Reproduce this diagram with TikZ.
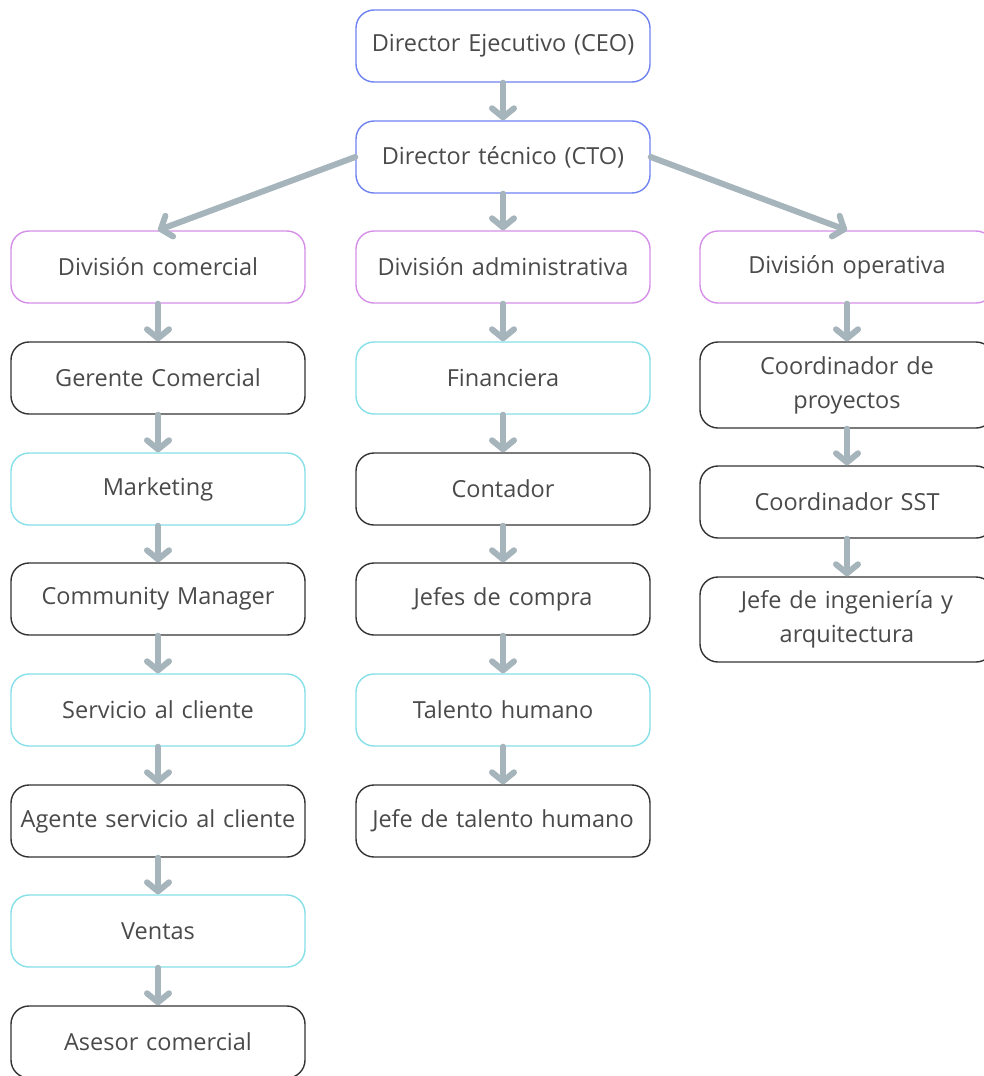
\documentclass[tikz,border=0pt]{standalone}
\usepackage{fontspec}
\setmainfont{Open Sans}
\usetikzlibrary{arrows.meta}
\definecolor{cblue}{HTML}{6F82F2}
\definecolor{cviolet}{HTML}{D68FE8}
\definecolor{ccyan}{HTML}{86E0E8}
\definecolor{cdark}{HTML}{333333}
\definecolor{ctext}{HTML}{4A4A4A}
\definecolor{carrow}{HTML}{A6B4BC}
\tikzset{
  box/.style={draw, line width=1.4pt, rounded corners=18pt, fill=white,
    minimum width=294pt, minimum height=72pt, inner sep=2pt,
    align=center, text=ctext, font=\fontsize{23.5}{34}\selectfont, text width=290pt},
  bluebox/.style={box, draw=cblue},
  violetbox/.style={box, draw=cviolet},
  cyanbox/.style={box, draw=ccyan},
  darkbox/.style={box, draw=cdark},
  conn/.style={draw=carrow, line width=6pt, line cap=round,
    -{Straight Barb[length=9pt,width=22pt,round]}}
}
\begin{document}
\begin{tikzpicture}[x=1pt,y=-1pt]
\useasboundingbox (0,0) rectangle (984,1076);
\clip (0,0) rectangle (984,1076);
% top
\node[bluebox] (ceo) at (503,46) {Director Ejecutivo (CEO)};
\node[bluebox] (cto) at (503,157) {Director técnico (CTO)};
% left column
\node[violetbox] (dc) at (158,267) {División comercial};
\node[darkbox] (gc) at (158,378) {Gerente Comercial};
\node[cyanbox] (mk) at (158,489) {Marketing};
\node[darkbox] (cm) at (158,599) {Community Manager};
\node[cyanbox] (sc) at (158,710) {Servicio al cliente};
\node[darkbox] (as) at (158,821) {Agente servicio al cliente};
\node[cyanbox] (ve) at (158,931) {Ventas};
\node[darkbox] (ac) at (158,1042) {Asesor comercial};
% middle column
\node[violetbox] (da) at (503,267) {División administrativa};
\node[cyanbox] (fi) at (503,378) {Financiera};
\node[darkbox] (co) at (503,489) {Contador};
\node[darkbox] (jc) at (503,599) {Jefes de compra};
\node[cyanbox] (th) at (503,710) {Talento humano};
\node[darkbox] (jt) at (503,821) {Jefe de talento humano};
% right column
\node[violetbox] (dop) at (847,267) {División operativa};
\node[darkbox, minimum height=86pt] (cp) at (847,385) {Coordinador de\\proyectos};
\node[darkbox] (cs) at (847,502) {Coordinador SST};
\node[darkbox, minimum height=85pt] (ji) at (847,619.5) {Jefe de ingeniería y\\arquitectura};
% connectors
\draw[conn] (ceo.south) -- (cto.north);
\draw[conn] (cto.south) -- (da.north);
\draw[conn] (cto.west) -- (dc.north);
\draw[conn] (cto.east) -- (dop.north);
\draw[conn] (dc) -- (gc);
\draw[conn] (gc) -- (mk);
\draw[conn] (mk) -- (cm);
\draw[conn] (cm) -- (sc);
\draw[conn] (sc) -- (as);
\draw[conn] (as) -- (ve);
\draw[conn] (ve) -- (ac);
\draw[conn] (da) -- (fi);
\draw[conn] (fi) -- (co);
\draw[conn] (co) -- (jc);
\draw[conn] (jc) -- (th);
\draw[conn] (th) -- (jt);
\draw[conn] (dop) -- (cp);
\draw[conn] (cp) -- (cs);
\draw[conn] (cs) -- (ji);
\end{tikzpicture}
\end{document}
